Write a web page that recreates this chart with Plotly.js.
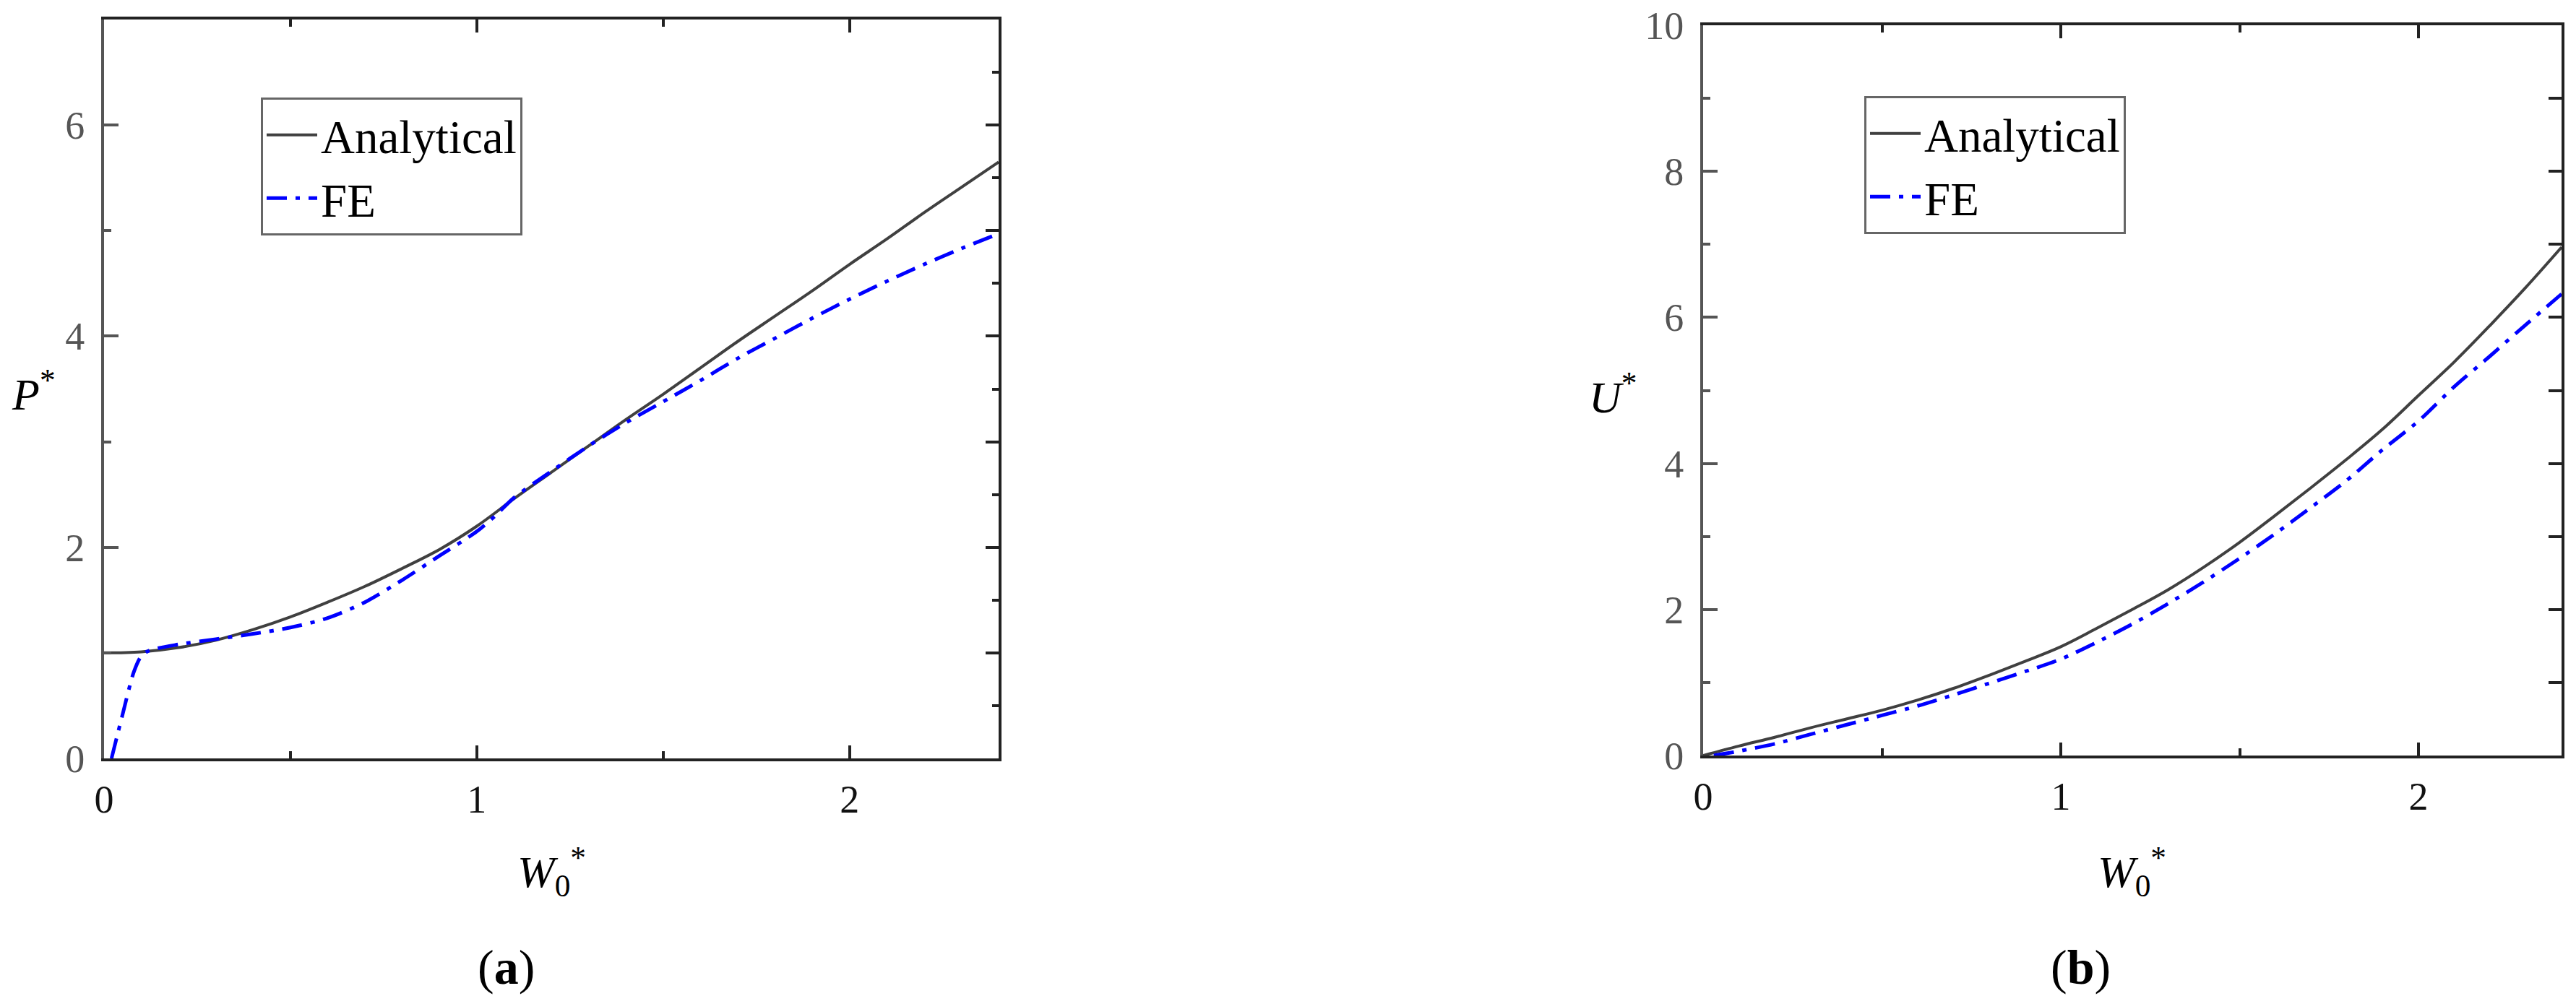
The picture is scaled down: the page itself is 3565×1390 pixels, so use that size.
<!DOCTYPE html>
<html>
<head>
<meta charset="utf-8">
<script src="https://cdn.plot.ly/plotly-3.0.1.min.js"></script>
<style>
  html, body { margin: 0; padding: 0; background: #fff; }
  #chart { width: 3565px; height: 1390px; }
</style>
</head>
<body>
<div id="chart"></div>
<script>
// (a) load P* against deflection W0*
const wA = [0, 0.1, 0.2, 0.3, 0.4, 0.5, 0.6, 0.7, 0.8, 0.9, 1.0, 1.1, 1.2, 1.3, 1.4, 1.5, 1.6, 1.7, 1.8, 1.9, 2.0, 2.1, 2.2, 2.3, 2.4];
const pAnalytical = [1.00, 1.01, 1.05, 1.12, 1.22, 1.34, 1.48, 1.63, 1.80, 1.98, 2.20, 2.46, 2.71, 2.96, 3.21, 3.45, 3.70, 3.95, 4.19, 4.43, 4.68, 4.92, 5.17, 5.41, 5.65];
const wFE_A = [0.02, 0.05, 0.08, 0.10, 0.12, 0.2, 0.3, 0.4, 0.5, 0.6, 0.7, 0.8, 0.9, 1.0, 1.05, 1.1, 1.2, 1.3, 1.4, 1.5, 1.6, 1.7, 1.8, 1.9, 2.0, 2.1, 2.2, 2.3, 2.4];
const pFE = [0, 0.42, 0.82, 0.97, 1.02, 1.08, 1.13, 1.18, 1.24, 1.33, 1.48, 1.69, 1.92, 2.15, 2.30, 2.47, 2.72, 2.96, 3.18, 3.38, 3.58, 3.79, 3.98, 4.17, 4.35, 4.52, 4.68, 4.83, 4.97];

// (b) energy U* against deflection W0*
const wB = [0, 0.1, 0.2, 0.3, 0.4, 0.5, 0.6, 0.7, 0.8, 0.9, 1.0, 1.1, 1.2, 1.3, 1.4, 1.5, 1.6, 1.7, 1.8, 1.9, 2.0, 2.1, 2.2, 2.3, 2.4];
const uAnalytical = [0, 0.13, 0.25, 0.38, 0.50, 0.62, 0.76, 0.92, 1.10, 1.29, 1.49, 1.74, 2.00, 2.27, 2.58, 2.92, 3.29, 3.67, 4.06, 4.47, 4.93, 5.39, 5.89, 6.41, 6.96];
const wFE_B = [0.03, 0.1, 0.2, 0.3, 0.4, 0.5, 0.6, 0.7, 0.8, 0.9, 1.0, 1.1, 1.2, 1.3, 1.4, 1.5, 1.6, 1.7, 1.8, 1.9, 2.0, 2.1, 2.2, 2.3, 2.4];
const uFE = [0, 0.06, 0.16, 0.29, 0.42, 0.55, 0.68, 0.83, 0.99, 1.15, 1.32, 1.55, 1.80, 2.08, 2.38, 2.70, 3.04, 3.40, 3.77, 4.19, 4.58, 5.05, 5.47, 5.90, 6.32];

const W = 3565, H = 1390;
const serif = 'Liberation Serif, Times New Roman, serif';
const solid = { color: '#404040', width: 4, shape: 'spline', smoothing: 1 };
const dashdot = { color: '#0000ff', width: 5, dash: '28px,12px,6px,12px', shape: 'spline', smoothing: 0.8 };

const traces = [
  { x: wA, y: pAnalytical, type: 'scatter', mode: 'lines', name: 'Analytical', line: solid, xaxis: 'x', yaxis: 'y', legend: 'legend' },
  { x: wFE_A, y: pFE, type: 'scatter', mode: 'lines', name: 'FE', line: dashdot, xaxis: 'x', yaxis: 'y', legend: 'legend' },
  { x: wB, y: uAnalytical, type: 'scatter', mode: 'lines', name: 'Analytical', line: solid, xaxis: 'x2', yaxis: 'y2', legend: 'legend2' },
  { x: wFE_B, y: uFE, type: 'scatter', mode: 'lines', name: 'FE', line: dashdot, xaxis: 'x2', yaxis: 'y2', legend: 'legend2' },
  // empty traces so the right-hand tick axes get drawn
  { x: [], y: [], type: 'scatter', xaxis: 'x', yaxis: 'y3', showlegend: false, hoverinfo: 'skip' },
  { x: [], y: [], type: 'scatter', xaxis: 'x2', yaxis: 'y4', showlegend: false, hoverinfo: 'skip' }
];

// pixel helpers -> paper coords
const px = v => v / W;
const py = v => (H - v) / H;

function xAxis(domain, anchor) {
  return {
    domain: domain, anchor: anchor, range: [0, 2.4], tick0: 0, dtick: 1,
    ticks: 'inside', ticklen: 18, tickwidth: 4, tickcolor: '#222',
    minor: { dtick: 0.5, ticks: 'inside', ticklen: 10, tickwidth: 4, tickcolor: '#222' },
    showline: true, linewidth: 4, linecolor: '#222', mirror: 'ticks',
    showgrid: false, zeroline: false,
    tickfont: { family: serif, size: 54, color: '#111' }, ticklabelstandoff: 6
  };
}
function yLeft(domain, anchor, top) {
  return {
    domain: domain, anchor: anchor, range: [0, top], tick0: 0, dtick: 2,
    ticks: 'inside', ticklen: 20, tickwidth: 4, tickcolor: '#555',
    minor: { dtick: 1, ticks: 'inside', ticklen: 10, tickwidth: 4, tickcolor: '#555' },
    showline: true, linewidth: 4, linecolor: '#555',
    showgrid: false, zeroline: false,
    tickfont: { family: serif, size: 54, color: '#555' }, ticklabelstandoff: 12
  };
}
function yRight(over, anchor, top, minorStep) {
  const ax = {
    overlaying: over, anchor: anchor, side: 'right', range: [0, top], tick0: 0, dtick: 1,
    ticks: 'inside', ticklen: 18, tickwidth: 4, tickcolor: '#222',
    showline: true, linewidth: 4, linecolor: '#222',
    showticklabels: false, showgrid: false, zeroline: false
  };
  if (minorStep) ax.minor = { dtick: minorStep, ticks: 'inside', ticklen: 9, tickwidth: 4, tickcolor: '#222' };
  return ax;
}

const legendStyle = (x, y) => ({
  x: x, y: y, xanchor: 'left', yanchor: 'top',
  bgcolor: '#fff', bordercolor: '#666', borderwidth: 3,
  font: { family: serif, size: 65, color: '#000' },
  itemwidth: 70, tracegroupgap: 0
});

const titleFont = { family: serif, size: 62, color: '#000' };
const ann = (x, y, text, size) => ({
  xref: 'paper', yref: 'paper', x: px(x), y: py(y), xanchor: 'center', yanchor: 'middle',
  text: text, showarrow: false, font: Object.assign({}, titleFont, size ? { size: size } : {})
});

const layout = {
  width: W, height: H,
  margin: { l: 0, r: 0, t: 0, b: 0 },
  paper_bgcolor: '#fff', plot_bgcolor: '#fff',
  showlegend: true,
  xaxis: xAxis([px(144), px(1382)], 'y'),
  yaxis: yLeft([py(1050), py(27)], 'x', 7),
  yaxis3: yRight('y', 'x', 7, 0.5),
  xaxis2: xAxis([px(2357), px(3545)], 'y2'),
  yaxis2: yLeft([py(1046), py(35)], 'x2', 10),
  yaxis4: yRight('y2', 'x2', 10, null),
  legend: legendStyle(px(361), py(135)),
  legend2: legendStyle(px(2580), py(133)),
  annotations: [
    ann(46, 541, '<i>P</i><sup>*</sup>'),
    ann(763, 1206, '<i>W</i><sub>0</sub><sup>*</sup>'),
    ann(700, 1339, '(<b>a</b>)', 68),
    ann(2232, 545, '<i>U</i><sup>*</sup>'),
    ann(2950, 1206, '<i>W</i><sub>0</sub><sup>*</sup>'),
    ann(2879, 1339, '(<b>b</b>)', 68)
  ]
};

Plotly.newPlot('chart', traces, layout, { staticPlot: true, displayModeBar: false });
</script>
</body>
</html>
